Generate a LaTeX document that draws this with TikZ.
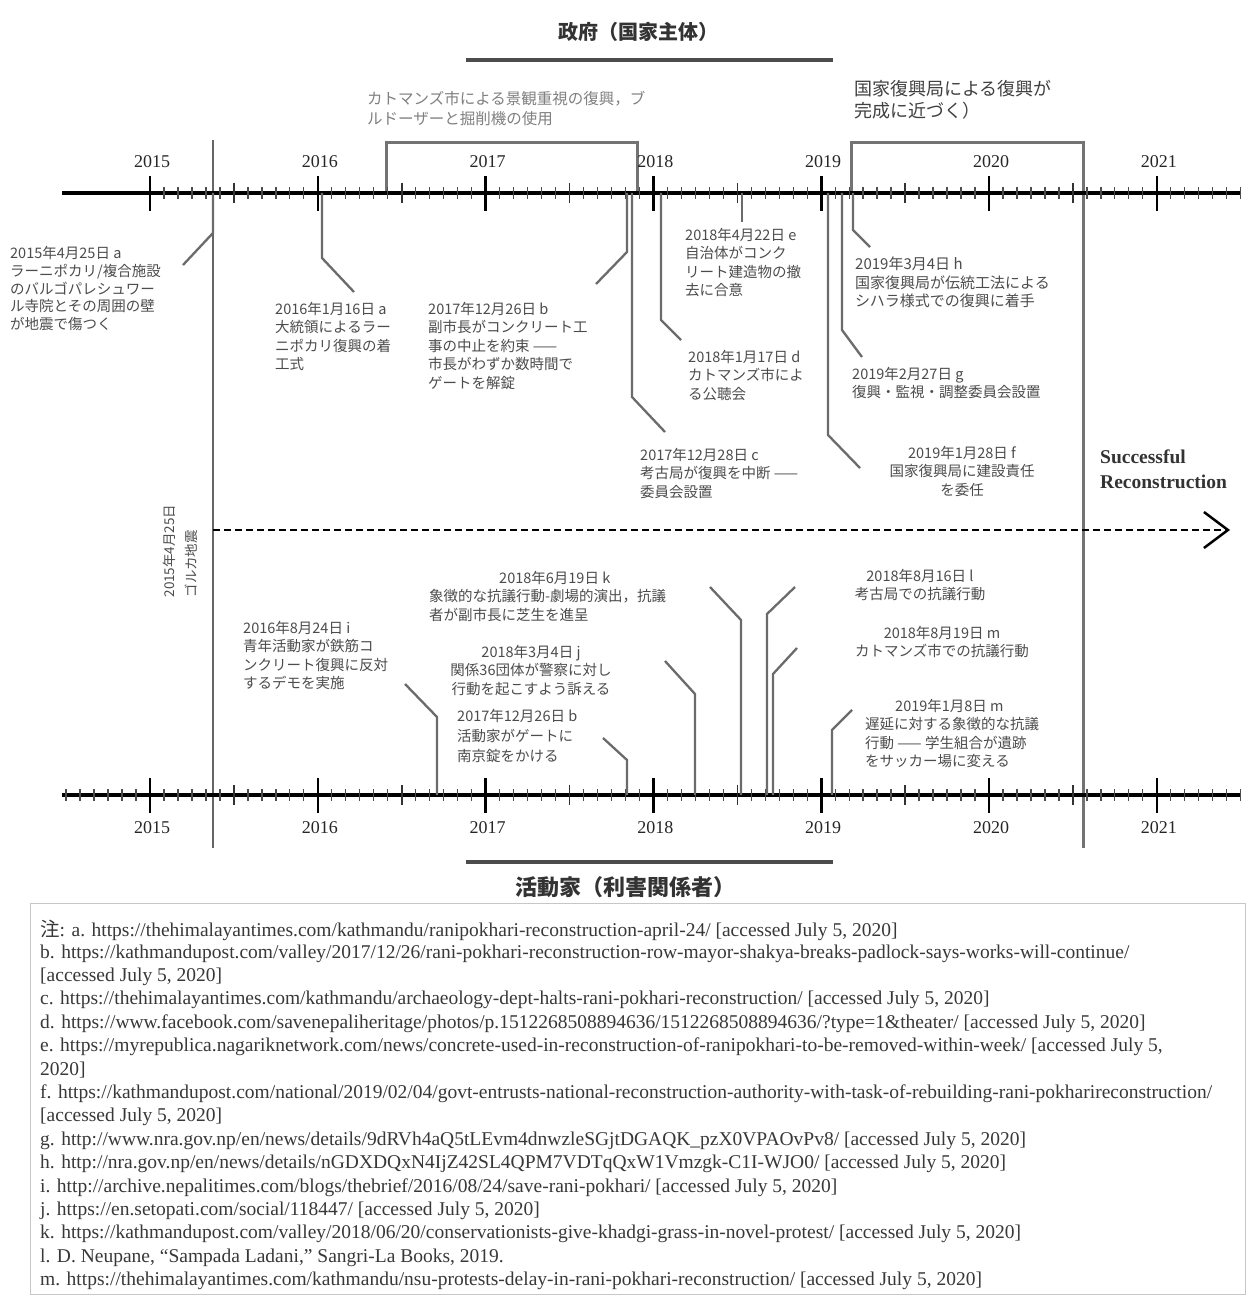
\documentclass[tikz,border=0pt]{standalone}
\usepackage{fontspec}
\setmainfont{Liberation Serif}
\newfontfamily\cjk{Noto Sans CJK JP}
\usetikzlibrary{arrows.meta}
\definecolor{lblgray}{gray}{0.30}
\definecolor{lngray}{gray}{0.42}
\definecolor{fngray}{gray}{0.22}
\begin{document}
\begin{tikzpicture}[x=1pt,y=-1pt,
  lbl/.style={inner sep=0pt,text=lblgray,font=\cjk\fontsize{14.5}{18.5}\selectfont,align=left,anchor=north west},
  lblc/.style={lbl,align=center,anchor=north},
  conn/.style={draw=lngray,line width=2.3pt},
  axisline/.style={line width=3.5pt,black},
  minortick/.style={line width=1.3pt,black!70},
  midtick/.style={line width=1.6pt,black!80},
  majortick/.style={line width=2.6pt,black},
  yearlbl/.style={inner sep=0pt,font=\fontsize{18}{18}\selectfont,text=black!85},
  bracket/.style={line width=3pt,black!55},
  era/.style={line width=2pt,black!60},
  hdr/.style={inner sep=0pt,text=black!80},
  fn/.style={inner sep=0pt,anchor=west,text=fngray,font=\fontsize{19.5}{23}\selectfont}]

\fill[white] (0,0) rectangle (1249,1297);
\useasboundingbox (0,0) rectangle (1249,1297);

% headers
\node[hdr,font=\cjk\bfseries\fontsize{20}{20}\selectfont] (govt) at (638,32) {政府（国家主体）};
\draw[line width=4pt,black!70] (466,60) -- (833,60);
\node[hdr,font=\cjk\bfseries\fontsize{22}{22}\selectfont] (act) at (625,887) {活動家（利害関係者）};
\draw[line width=4pt,black!70] (466,862) -- (833,862);

% bracket labels
\node[lbl,font=\cjk\fontsize{15.5}{20}\selectfont,text=black!50] (kat) at (367,91) {カトマンズ市による景観重視の復興，ブ\\ルドーザーと掘削機の使用};
\node[lbl,font=\cjk\fontsize{18}{22}\selectfont,text=black!75] (nra) at (854,80) {国家復興局による復興が\\完成に近づく）};

% brackets and era lines
\coordinate (br1a) at (386,193); \coordinate (br1b) at (637,193);
\draw[bracket] (br1a) -- (386,143) -- (637,143) -- (br1b);
\coordinate (br2a) at (851,193); \coordinate (br2b) at (1083,848);
\draw[bracket] (br2a) -- (851,143) -- (1083,143) -- (br2b);
\coordinate (eq1) at (213,140); \coordinate (eq2) at (213,848);
\draw[era] (eq1) -- (eq2);

% axes
\draw[axisline] (62,193) -- (1240,193);
\draw[axisline] (62,795) -- (1240,795);
\foreach \i in {0,...,78} {\draw[minortick] ({150+13.983*\i},187) -- ++(0,12);}
\foreach \i in {-6,...,78} {\draw[minortick] ({150+13.983*\i},789) -- ++(0,12);}
\foreach \i in {0,...,5} {
  \draw[midtick] ({233.9+167.8*\i},183) -- ++(0,20);
  \draw[midtick] ({233.9+167.8*\i},785) -- ++(0,20);}
\foreach \i/\yr in {0/2015,1/2016,2/2017,3/2018,4/2019,5/2020,6/2021} {
  \draw[majortick] ({150+167.8*\i},176) -- ++(0,35);
  \draw[majortick] ({150+167.8*\i},778) -- ++(0,35);
  \node[yearlbl] (yt\yr) at ({152+167.8*\i},162) {\yr};
  \node[yearlbl] (yb\yr) at ({152+167.8*\i},828) {\yr};}

% earthquake vertical label
\node[inner sep=0pt,rotate=90,align=left,text=lblgray,font=\cjk\fontsize{13.5}{22}\selectfont] (gorkha) at (180,551) {2015年4月25日\\ゴルカ地震};

% dashed arrow
\coordinate (dstart) at (213,530); \coordinate (dend) at (1230,530);
\draw[line width=2.5pt,black,dash pattern=on 7pt off 4pt,-{Straight Barb[length=24pt,width=36pt,line width=2.5pt]}] (dstart) -- (dend);
\node[inner sep=0pt,anchor=north west,align=left,font=\bfseries\fontsize{19.5}{25}\selectfont,text=black!80] (succ) at (1100,450) {Successful\\Reconstruction};

% ---- government events (top)
\node[lbl,font=\cjk\fontsize{14.5}{17.8}\selectfont] (ea1) at (10,246) {2015年4月25日 a\\ラーニポカリ/複合施設\\のバルゴパレシュワー\\ル寺院とその周囲の壁\\が地震で傷つく};
\coordinate (ca1) at (213,193); \draw[conn] (ca1) -- (213,233) -- (183,265);

\node[lbl] (ea2) at (275,302) {2016年1月16日 a\\大統領によるラー\\ニポカリ復興の着\\工式};
\coordinate (ca2) at (322,193); \draw[conn] (ca2) -- (322,258) -- (354,292);

\node[lbl] (eb1) at (428,302) {2017年12月26日 b\\副市長がコンクリート工\\事の中止を約束 ——\\市長がわずか数時間で\\ゲートを解錠};
\coordinate (cb1) at (627,193); \draw[conn] (cb1) -- (627,252) -- (596,284);

\node[lbl] (ec) at (640,448) {2017年12月28日 c\\考古局が復興を中断 ——\\委員会設置};
\coordinate (cc) at (632,193); \draw[conn] (cc) -- (632,397) -- (665,432);

\node[lbl] (ed) at (688,350) {2018年1月17日 d\\カトマンズ市によ\\る公聴会};
\coordinate (cd) at (661,193); \draw[conn] (cd) -- (661,320) -- (681,340);

\node[lbl] (ee) at (685,228) {2018年4月22日 e\\自治体がコンク\\リート建造物の撤\\去に合意};
\coordinate (ce) at (742,193); \draw[conn] (ce) -- (742,222);

\node[lblc] (ef) at (962,446) {2019年1月28日 f\\国家復興局に建設責任\\を委任};
\coordinate (cf) at (828,193); \draw[conn] (cf) -- (828,435) -- (860,468);

\node[lbl] (eg) at (852,367) {2019年2月27日 g\\復興・監視・調整委員会設置};
\coordinate (cg) at (842,193); \draw[conn] (cg) -- (842,330) -- (862,357);

\node[lbl,font=\cjk\fontsize{15}{18.5}\selectfont] (eh) at (855,257) {2019年3月4日 h\\国家復興局が伝統工法による\\シハラ様式での復興に着手};
\coordinate (ch) at (853,193); \draw[conn] (ch) -- (853,230) -- (870,247);

% ---- activist events (bottom)
\node[lbl] (ei) at (243,621) {2016年8月24日 i\\青年活動家が鉄筋コ\\ンクリート復興に反対\\するデモを実施};
\coordinate (ci) at (437,795); \draw[conn] (ci) -- (437,717) -- (405,684);

\node[lbl,font=\cjk\fontsize{14.5}{20}\selectfont] (eb2) at (457,709) {2017年12月26日 b\\活動家がゲートに\\南京錠をかける};
\coordinate (cb2) at (627,795); \draw[conn] (cb2) -- (627,760) -- (603,738);

\node[lblc] (ej) at (531,645) {2018年3月4日 j\\関係36団体が警察に対し\\行動を起こすよう訴える};
\coordinate (cj) at (695,795); \draw[conn] (cj) -- (695,694) -- (665,661);

\node[lbl] (ek) at (429,571) {\hspace*{70pt}2018年6月19日 k\\象徴的な抗議行動-劇場的演出，抗議\\者が副市長に芝生を進呈};
\coordinate (ck) at (741,795); \draw[conn] (ck) -- (741,620) -- (710,587);

\node[lblc] (el) at (920,569) {2018年8月16日 l\\考古局での抗議行動};
\coordinate (cl) at (767,795); \draw[conn] (cl) -- (767,614) -- (795,587);

\node[lblc] (em1) at (942,626) {2018年8月19日 m\\カトマンズ市での抗議行動};
\coordinate (cm1) at (773,795); \draw[conn] (cm1) -- (773,674) -- (797,648);

\node[lbl] (em2) at (865,699) {\hspace*{30pt}2019年1月8日 m\\遅延に対する象徴的な抗議\\行動 —— 学生組合が遺跡\\をサッカー場に変える};
\coordinate (cm2) at (832,795); \draw[conn] (cm2) -- (832,730) -- (852,710);

% ---- footnotes
\draw[black!22,line width=1pt] (30,903) rectangle (1245,1294);
\node[fn] (fn1) at (40,930) {{\cjk 注}: a. https://thehimalayantimes.com/kathmandu/ranipokhari-reconstruction-april-24/ [accessed July 5, 2020]};
\node[fn] (fn2) at (40,953.4) {b. https://kathmandupost.com/valley/2017/12/26/rani-pokhari-reconstruction-row-mayor-shakya-breaks-padlock-says-works-will-continue/};
\node[fn] (fn3) at (40,976.8) {[accessed July 5, 2020]};
\node[fn] (fn4) at (40,1000.2) {c. https://thehimalayantimes.com/kathmandu/archaeology-dept-halts-rani-pokhari-reconstruction/ [accessed July 5, 2020]};
\node[fn] (fn5) at (40,1023.6) {d. https://www.facebook.com/savenepaliheritage/photos/p.1512268508894636/1512268508894636/?type=1\&theater/ [accessed July 5, 2020]};
\node[fn] (fn6) at (40,1047) {e. https://myrepublica.nagariknetwork.com/news/concrete-used-in-reconstruction-of-ranipokhari-to-be-removed-within-week/ [accessed July 5,};
\node[fn] (fn7) at (40,1070.4) {2020]};
\node[fn] (fn8) at (40,1093.8) {f. https://kathmandupost.com/national/2019/02/04/govt-entrusts-national-reconstruction-authority-with-task-of-rebuilding-rani-pokharireconstruction/};
\node[fn] (fn9) at (40,1117.2) {[accessed July 5, 2020]};
\node[fn] (fn10) at (40,1140.6) {g. http://www.nra.gov.np/en/news/details/9dRVh4aQ5tLEvm4dnwzleSGjtDGAQK\_pzX0VPAOvPv8/ [accessed July 5, 2020]};
\node[fn] (fn11) at (40,1164) {h. http://nra.gov.np/en/news/details/nGDXDQxN4IjZ42SL4QPM7VDTqQxW1Vmzgk-C1I-WJO0/ [accessed July 5, 2020]};
\node[fn] (fn12) at (40,1187.4) {i. http://archive.nepalitimes.com/blogs/thebrief/2016/08/24/save-rani-pokhari/ [accessed July 5, 2020]};
\node[fn] (fn13) at (40,1210.8) {j. https://en.setopati.com/social/118447/ [accessed July 5, 2020]};
\node[fn] (fn14) at (40,1234.2) {k. https://kathmandupost.com/valley/2018/06/20/conservationists-give-khadgi-grass-in-novel-protest/ [accessed July 5, 2020]};
\node[fn] (fn15) at (40,1257.6) {l. D. Neupane, “Sampada Ladani,” Sangri-La Books, 2019.};
\node[fn] (fn16) at (40,1281) {m. https://thehimalayantimes.com/kathmandu/nsu-protests-delay-in-rani-pokhari-reconstruction/ [accessed July 5, 2020]};
\end{tikzpicture}
\end{document}
